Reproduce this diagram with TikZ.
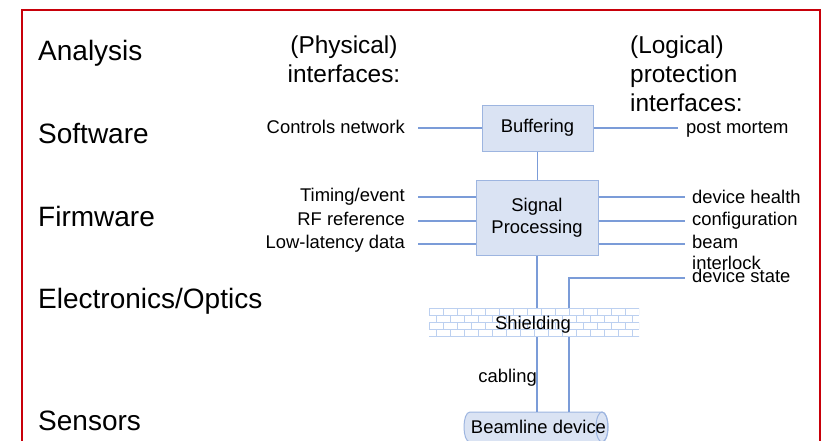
\documentclass[tikz,border=0pt]{standalone}
\usepackage{fontspec}
\setmainfont{Liberation Sans}
\definecolor{frame}{HTML}{C8000A}
\definecolor{wire}{HTML}{7B9CD8}
\definecolor{boxfill}{HTML}{DAE3F3}
\definecolor{boxline}{HTML}{9DB5E0}
\definecolor{brick}{HTML}{BCD0F0}
\begin{document}
\begin{tikzpicture}[x=1pt,y=-1pt,
  big/.style={font=\fontsize{28}{33}\selectfont, inner sep=0pt},
  head/.style={font=\fontsize{24.4}{29}\selectfont, inner sep=0pt},
  small/.style={font=\fontsize{18.4}{21}\selectfont, inner sep=0pt},
  blk/.style={draw=boxline, fill=boxfill, line width=1pt, font=\fontsize{18.4}{22}\selectfont, align=center, inner sep=0pt},
  wire/.style={draw=wire, line width=1.3pt}]
\useasboundingbox (0,0) rectangle (823,440);
\clip (0,0) rectangle (823,440);

% frame
\draw[frame, line width=2.4pt] (22,460) -- (22,10) -- (820,10) -- (820,460);

% layer labels
\node[big, anchor=base west] (an) at (38,60) {Analysis};
\node[big, anchor=base west] (sw) at (38,143) {Software};
\node[big, anchor=base west] (fw) at (38,226) {Firmware};
\node[big, anchor=base west] (eo) at (38,308) {Electronics/Optics};
\node[big, anchor=base west] (se) at (38,430) {Sensors};

% headers
\node[head, anchor=north, align=center] (phys) at (344,36) {(Physical)\\interfaces:};
\node[head, anchor=north west, align=left] (logi) at (630,36) {(Logical)\\protection\\interfaces:};

% boxes
\node[blk, minimum width=111pt, minimum height=46pt] (buf) at (537.5,128) {Buffering};
\node[blk, minimum width=122pt, minimum height=75pt] (sp) at (537,217.5) {Signal\\Processing};

% left labels
\node[small, anchor=base east] (cn) at (405,133) {Controls network};
\node[small, anchor=base east] (te) at (405,201) {Timing/event};
\node[small, anchor=base east] (rf) at (405,225) {RF reference};
\node[small, anchor=base east] (ll) at (405,248) {Low-latency data};

% right labels
\node[small, anchor=base west] (pm) at (686,133) {post mortem};
\node[small, anchor=base west] (dh) at (692,203) {device health};
\node[small, anchor=base west] (cf) at (692,225) {configuration};
\node[small, anchor=base west, align=left] (bi) at (692,269) {beam\\interlock};
\node[small, anchor=base west] (ds) at (692,282) {device state};

% line end coordinates
\coordinate (lcn) at (418,128);
\coordinate (lte) at (418,197);
\coordinate (lrf) at (418,221);
\coordinate (lll) at (418,244);
\coordinate (rpm) at (678,128);
\coordinate (rdh) at (685,197);
\coordinate (rcf) at (685,221);
\coordinate (rbi) at (685,244);
\coordinate (rds) at (685,278);
\coordinate (turn) at (569,278);

% beamline device (cylinder)
\fill[boxfill] (470,412) -- (602,412) .. controls (610,412) and (610,442) .. (602,442)
  -- (470,442) .. controls (462,442) and (462,412) .. (470,412) -- cycle;
\draw[boxline, line width=1pt] (470,412) -- (602,412) .. controls (610,412) and (610,442) .. (602,442)
  -- (470,442) .. controls (462,442) and (462,412) .. (470,412) -- cycle;
\draw[boxline, line width=1pt] (602,427) ellipse [x radius=6pt, y radius=15pt];
\node[small, anchor=base] (bd) at (538.5,433) {Beamline device};
\coordinate (bdtop) at (537,412);
\coordinate (bdtop2) at (569,412);

% connectors
\draw[wire] (lcn) -- (lcn -| buf.west);
\draw[wire] (buf.east |- rpm) -- (rpm);
\draw[wire] (buf.south) -- (buf.south |- sp.north);
\draw[wire] (lte) -- (lte -| sp.west);
\draw[wire] (lrf) -- (lrf -| sp.west);
\draw[wire] (lll) -- (lll -| sp.west);
\draw[wire] (sp.east |- rdh) -- (rdh);
\draw[wire] (sp.east |- rcf) -- (rcf);
\draw[wire] (sp.east |- rbi) -- (rbi);
\draw[wire] (sp.south) -- (bdtop);
\draw[wire] (bdtop2) -- (turn) -- (rds);

% shielding
\fill[white] (429,308) rectangle (639,336);
\begin{scope}
\clip (429,308) rectangle (639,336);
\foreach \r in {0,1,2,3,4} {
  \draw[brick, line width=0.8pt] (429,308+7*\r) -- (639,308+7*\r);
  \pgfmathtruncatemacro{\odd}{mod(\r,2)}
  \foreach \c in {0,...,16} {
    \draw[brick, line width=0.8pt] (429+14*\c+7*\odd,308+7*\r) -- (429+14*\c+7*\odd,315+7*\r);
  }
}
\end{scope}
\node[small, anchor=base] (sh) at (533,329) {Shielding};

\node[small, anchor=base east] (cab) at (537,382) {cabling};
\end{tikzpicture}
\end{document}
